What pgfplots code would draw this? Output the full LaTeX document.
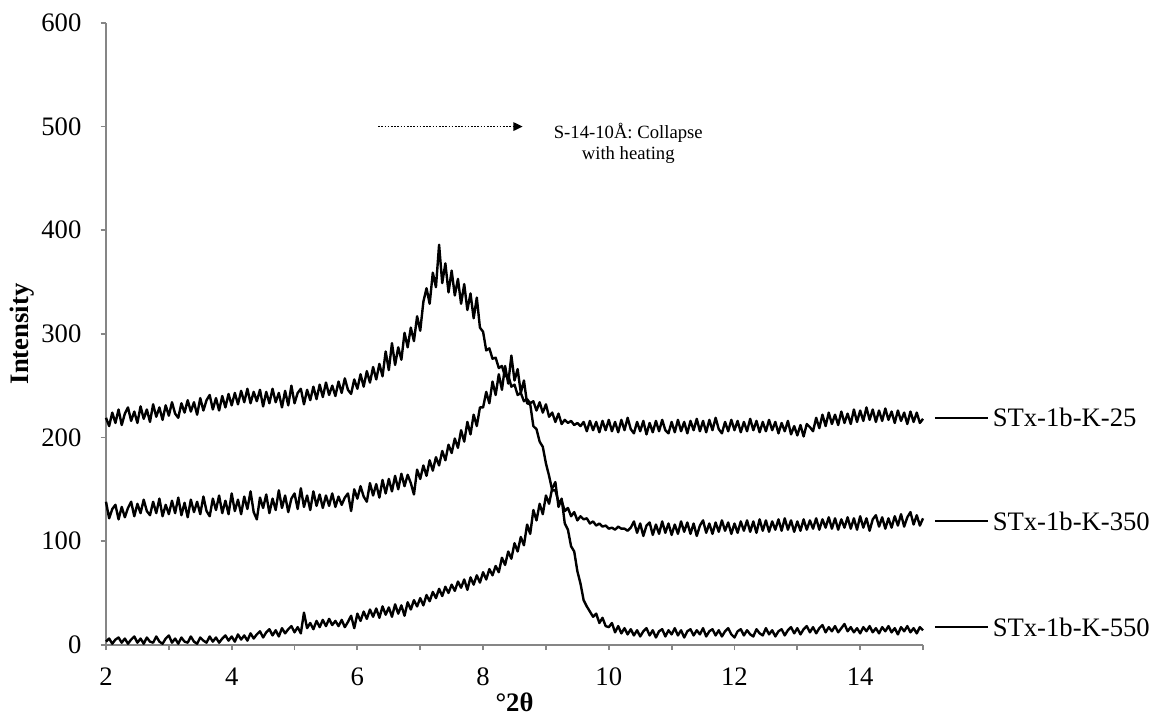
\documentclass[border=0pt]{standalone}
\usepackage{fontspec}
\setmainfont{Liberation Serif}
\usepackage{pgfplots}
\pgfplotsset{compat=1.18}
\usepackage{pgfplotstable}
\usetikzlibrary{arrows.meta}
\definecolor{axgray}{RGB}{134,134,134}
\pgfplotstableread{
x a b c
2.00  219  138   3
2.05  211  122   6
2.10  224  131   1
2.15  214  135   5
2.20  227  121   7
2.25  212  133   2
2.30  223  123   6
2.35  229  132   1
2.40  216  138   5
2.45  225  124   8
2.50  214  136   2
2.55  230  127   6
2.60  218  140   1
2.65  227  129   7
2.70  215  125   3
2.75  232  138   2
2.80  220  127   8
2.85  229  141   3
2.90  217  124   1
2.95  231  135   6
3.00  221  126   9
3.05  234  139   2
3.10  223  127   6
3.15  219  142   1
3.20  233  125   7
3.25  224  137   3
3.30  236  123   2
3.35  225  140   8
3.40  234  128   3
3.45  222  138   1
3.50  238  126   7
3.55  226  143   4
3.60  236  129   2
3.65  241  124   8
3.70  227  141   3
3.75  238  130   7
3.80  226  144   2
3.85  240  127   6
3.90  229  139   9
3.95  242  126   4
4.00  231  146   8
4.05  243  129   3
4.10  232  140   10
4.15  245  126   5
4.20  234  143   9
4.25  247  131   4
4.30  233  148   11
4.35  244  128   6
4.40  235  121   10
4.45  246  142   13
4.50  230  132   7
4.55  244  145   12
4.60  233  127   15
4.65  247  141   9
4.70  234  130   14
4.75  243  149   8
4.80  229  132   16
4.85  245  144   11
4.90  231  128   15
4.95  250  141   18
5.00  233  146   12
5.05  243  131   17
5.10  247  151   11
5.15  232  133   31
5.20  246  144   16
5.25  236  130   21
5.30  249  148   15
5.35  237  134   23
5.40  251  145   17
5.45  239  132   24
5.50  253  144   18
5.55  241  134   25
5.60  250  146   19
5.65  240  133   23
5.70  254  143   18
5.75  243  135   24
5.80  257  142   17
5.85  246  146   22
5.90  242  129   28
5.95  256  150   16
6.00  247  141   30
6.05  261  153   23
6.10  249  143   32
6.15  264  138   25
6.20  253  156   34
6.25  268  144   27
6.30  256  155   35
6.35  271  142   26
6.40  259  159   37
6.45  283  146   29
6.50  265  160   36
6.55  291  148   27
6.60  270  163   39
6.65  287  150   30
6.70  275  165   38
6.75  301  153   28
6.80  287  164   41
6.85  306  156   34
6.90  293  145   43
6.95  317  169   37
7.00  303  160   45
7.05  331  173   38
7.10  344  163   48
7.15  329  178   42
7.20  359  168   51
7.25  345  181   45
7.30  386  173   54
7.35  349  187   47
7.40  368  178   56
7.45  340  193   50
7.50  361  185   58
7.55  337  199   52
7.60  353  190   61
7.65  329  207   55
7.70  348  196   63
7.75  323  215   53
7.80  339  203   65
7.85  315  222   58
7.90  335  211   67
7.95  306  229   60
8.00  302  229   70
8.05  284  244   63
8.10  286  233   73
8.15  276  254   67
8.20  277  241   76
8.25  267  261   70
8.30  269  246   84
8.35  259  269   77
8.40  260  252   90
8.45  249  279   83
8.50  251  255   98
8.55  241  266   90
8.60  243  243   104
8.65  235  255   96
8.70  237  233   116
8.75  233  232   107
8.80  235  211   130
8.85  226  208   120
8.90  234  196   136
8.95  224  191   126
9.00  232  175   144
9.05  220  163   136
9.10  224  149   151
9.15  215  149   157
9.20  223  138   133
9.25  213  139   141
9.30  217  129   117
9.35  214  132   111
9.40  216  124   95
9.45  212  128   90
9.50  214  120   71
9.55  211  124   59
9.60  215  121   43
9.65  206  122   37
9.70  216  117   32
9.75  207  119   27
9.80  215  115   30
9.85  205  117   21
9.90  216  114   26
9.95  207  115   18
10.00 217  112   17
10.05 206  113   21
10.10 215  111   12
10.15 205  114   18
10.20 217  112   11
10.25 207  112   16
10.30 219  110   10
10.35 208  113   15
10.40 204  119   9
10.45 215  108   14
10.50 206  117   8
10.55 216  105   13
10.60 203  115   16
10.65 214  118   9
10.70 205  106   14
10.75 216  116   7
10.80 206  107   13
10.85 217  119   15
10.90 207  108   8
10.95 204  117   14
11.00 215  106   10
11.05 205  116   16
11.10 217  107   9
11.15 206  119   14
11.20 215  109   7
11.25 204  118   13
11.30 216  107   15
11.35 207  117   9
11.40 218  105   14
11.45 206  115   10
11.50 216  120   16
11.55 205  108   8
11.60 217  117   13
11.65 207  107   15
11.70 219  118   9
11.75 208  109   14
11.80 204  120   8
11.85 215  110   13
11.90 206  118   16
11.95 217  107   10
12.00 207  117   7
12.05 216  108   13
12.10 205  119   15
12.15 215  110   9
12.20 206  120   14
12.25 218  109   10
12.30 207  119   8
12.35 216  108   15
12.40 205  121   11
12.45 215  110   9
12.50 206  120   16
12.55 217  109   10
12.60 207  119   14
12.65 215  111   8
12.70 204  121   13
12.75 214  110   15
12.80 206  122   9
12.85 216  111   14
12.90 203  120   17
12.95 211  109   11
13.00 202  119   16
13.05 212  110   10
13.10 201  121   15
13.15 213  111   18
13.20 210  120   12
13.25 206  112   17
13.30 219  122   11
13.35 209  111   16
13.40 222  121   19
13.45 211  113   12
13.50 224  123   17
13.55 213  112   13
13.60 222  122   18
13.65 212  111   12
13.70 225  121   16
13.75 214  113   20
13.80 223  123   13
13.85 213  112   17
13.90 227  122   12
13.95 215  111   16
14.00 226  124   11
14.05 216  113   17
14.10 229  122   13
14.15 217  110   18
14.20 227  121   12
14.25 215  125   16
14.30 226  114   11
14.35 216  123   17
14.40 228  112   13
14.45 217  122   18
14.50 225  113   12
14.55 214  124   16
14.60 226  115   10
14.65 216  126   17
14.70 224  114   13
14.75 213  123   18
14.80 225  128   12
14.85 215  116   16
14.90 224  125   11
14.95 214  115   17
15.00 218  122   14
}\xrd
\begin{document}
\begin{tikzpicture}
\path[use as bounding box] (-39.75pt,-30pt) rectangle (392.65pt,241.8pt);
\begin{axis}[
  scale only axis, width=306.4pt, height=233.2pt,
  xmin=2, xmax=15, ymin=0, ymax=600,
  axis x line=bottom, axis y line=left,
  axis line style={draw=axgray, line width=0.7pt, -},
  xtick={2,...,15}, xticklabels={2,,4,,6,,8,,10,,12,,14,},
  ytick={0,100,...,600},
  tick align=outside, major tick length=2pt,
  tick style={draw=axgray, line width=0.7pt},
  /pgf/number format/assume math mode=true,
  tick label style={font=\fontsize{10}{12}\selectfont},
  xticklabel style={yshift=-3.2pt},
  yticklabel style={xshift=-3.7pt},
  xlabel={°2θ}, ylabel={Intensity},
  every axis x label/.style={at={(axis description cs:0.5,-0.0918)}, anchor=center, font=\bfseries},
  every axis y label/.style={at={(axis description cs:-0.1028,0.5)}, rotate=90, anchor=center, font=\bfseries},
  clip=false,
]
\addplot[black, line width=0.9pt, line join=round] table[x=x, y=a] {\xrd};
\addplot[black, line width=0.9pt, line join=round] table[x=x, y=b] {\xrd};
\addplot[black, line width=0.9pt, line join=round] table[x=x, y=c] {\xrd};
\draw[black, line width=0.75pt] (axis cs:15.19,219) -- (axis cs:16.03,219) node[right, inner sep=1.5pt, font=\fontsize{10}{12}\selectfont] {STx-1b-K-25};
\draw[black, line width=0.75pt] (axis cs:15.19,119) -- (axis cs:16.03,119) node[right, inner sep=1.5pt, font=\fontsize{10}{12}\selectfont] {STx-1b-K-350};
\draw[black, line width=0.75pt] (axis cs:15.19,17) -- (axis cs:16.03,17) node[right, inner sep=1.5pt, font=\fontsize{10}{12}\selectfont] {STx-1b-K-550};
\draw[black, line width=0.6pt, dash pattern=on 0.6pt off 0.6pt, -{Triangle[length=3.5pt, width=3.2pt]}] (axis cs:6.33,500) -- (axis cs:8.63,500);
\node[align=center, font=\fontsize{7}{7.8}\selectfont, anchor=north] at (axis cs:10.31,512) {S-14-10Å: Collapse\\with heating};
\end{axis}
\end{tikzpicture}
\end{document}
